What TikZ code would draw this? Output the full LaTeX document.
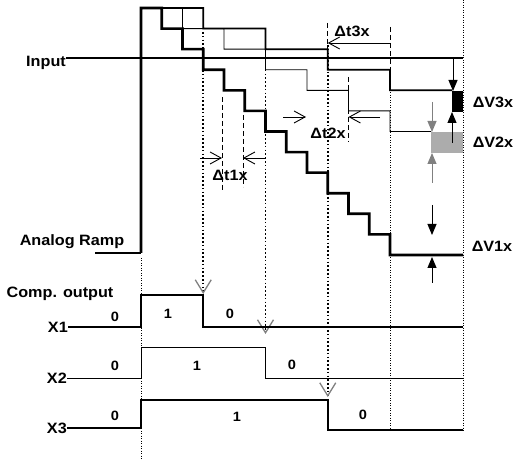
\documentclass[tikz,border=0pt]{standalone}
\usepackage{fontspec}
\setmainfont{Liberation Sans}[FakeStretch=1.08]
\usetikzlibrary{arrows.meta}
\tikzset{
  lbl/.style={font=\fontsize{15}{17}\selectfont\bfseries, inner sep=0pt},
  bit/.style={font=\fontsize{13.5}{15}\selectfont\bfseries, inner sep=0pt},
  tmark/.style={dash pattern=on 5pt off 3pt, line width=0.9pt},
  guide/.style={line width=0.9pt, dash pattern=on 1pt off 1.5pt},
  probe/.style={line width=1.8pt, dash pattern=on 1.6pt off 2.2pt,
    -{Straight Barb[length=13pt,width=16pt,color=gray,line width=1.3pt]}},
  tspan/.style={line width=0.9pt, -{Straight Barb[length=11pt,width=12pt]}},
  varrow/.style={line width=1pt, -{Triangle[length=11pt,width=9pt]}}
}
\begin{document}
\begin{tikzpicture}[x=1pt,y=-1pt]
\useasboundingbox (0,0) rectangle (517,462);
\draw[guide] (463,0) -- (463,432);
\draw[guide] (390,90) -- (390,432);
\draw[guide] (141,258) -- (141,460);
\draw[line width=0.9pt] (141,8) \foreach \i in {1,...,6} {-| ++(41.5,20.58)} -- (431,131.5);
\draw[line width=1.8pt] (141,8) \foreach \i in {1,...,4} {-| ++(62.25,20.58)} -- (452,90.3);
\draw[line width=2.6pt] (141,253) -- (141,8) \foreach \i in {1,...,12} {-| ++(20.75,20.58)} -- (463,255);
\node[lbl] (input) at (46,63) {Input};
\coordinate (inR) at (463,58);
\draw[line width=1.2pt] (input.east |- inR) -- (inR);
\node[lbl] (ramp) at (72,242) {Analog Ramp};
\draw[line width=1.2pt] (95,253) -- (141,253);
\fill[gray!65] (431,132) rectangle (463,153);
\fill (452,91) rectangle (463,112);
\draw[varrow] (453,58) -- (453,91);
\draw[varrow] (452,143) -- (452,112);
\draw[varrow, gray] (432,102) -- (432,132);
\draw[varrow, gray] (432,183) -- (432,153);
\draw[varrow] (432,205) -- (432,235);
\draw[varrow] (432,283) -- (432,257);
\node[lbl] (dv3) at (493,102) {ΔV3x};
\node[lbl] (dv2) at (493,142) {ΔV2x};
\node[lbl] (dv1) at (492,246) {ΔV1x};
\draw[tmark] (222,97) -- (222,190);
\draw[tmark] (243,115) -- (243,187);
\draw[tspan] (200,158) -- (222,158);
\draw[tspan] (265,158) -- (243,158);
\node[lbl] (dt1) at (230,175) {Δt1x};
\draw[tmark] (348.5,77) -- (348.5,142);
\draw[tspan] (283,117) -- (306,117);
\draw[tspan] (380,117) -- (348.5,117);
\node[lbl] (dt2) at (328,133) {Δt2x};
\draw[tmark] (327.75,23) -- (327.75,49);
\draw[tmark] (390,27) -- (390,70);
\draw[tspan, {Straight Barb[length=11pt,width=12pt]}-] (327.75,43) -- (390,43);
\node[lbl] (dt3) at (352,31) {Δt3x};
\draw[probe] (203.25,32) -- (203.25,294);
\draw[probe] (265.5,66) -- (265.5,334);
\draw[probe] (327.75,45) -- (327.75,397);
\node[lbl] (comp) at (60,294) {Comp. output};
\node[lbl, anchor=east] (x1) at (68,327) {X1};
\node[lbl, anchor=east] (x2) at (67,378) {X2};
\node[lbl, anchor=east] (x3) at (67,428) {X3};
\draw[line width=2.4pt] (x1.east) -- (141,327) -- (141,295) -- (203.25,295) -- (203.25,327) -- (463,327);
\draw[line width=0.9pt] (x2.east) -- (141,378) -- (141,347) -- (265.5,347) -- (265.5,378) -- (463,378);
\draw[line width=2pt] (x3.east) -- (141,428) -- (141,400) -- (327.75,400) -- (327.75,430) -- (463,430);
\node[bit] (b10) at (115,317) {0};
\node[bit] (b11) at (168,314) {1};
\node[bit] (b12) at (230,314) {0};
\node[bit] (b20) at (115,366) {0};
\node[bit] (b21) at (197,366) {1};
\node[bit] (b22) at (292,365) {0};
\node[bit] (b30) at (115,416) {0};
\node[bit] (b31) at (237,417) {1};
\node[bit] (b32) at (363,415) {0};
\end{tikzpicture}
\end{document}
